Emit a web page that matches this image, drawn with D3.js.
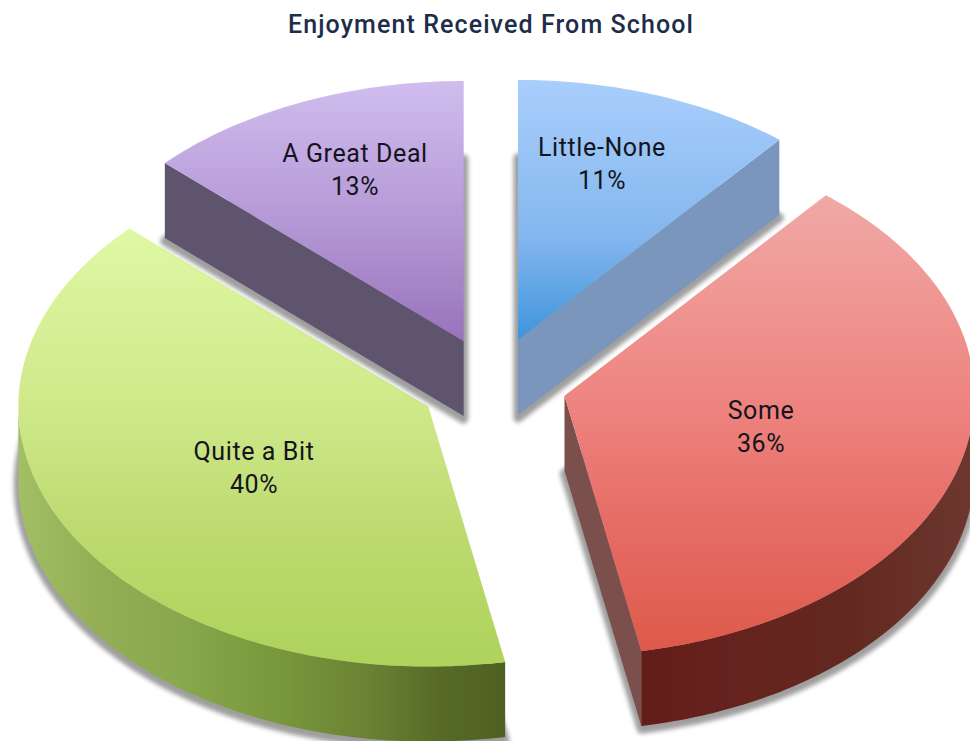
<!DOCTYPE html>
<html>
<head>
<meta charset="utf-8">
<script src="https://cdn.jsdelivr.net/npm/d3@7"></script>
<style>
  html, body { margin: 0; padding: 0; background: #fff; overflow: hidden; }
  text { font-family: Roboto, sans-serif; text-anchor: middle; }
</style>
</head>
<body>
<script>
// Survey results
const title = "Enjoyment Received From School";
const categories = ["Little-None", "Some", "Quite a Bit", "A Great Deal"];
const percents = [11, 36, 40, 13];

// Per-slice shading
const topStops = [
  [[0, "#a9cefc"], [0.6, "#84b7ee"], [1, "#3f94dc"]],
  [[0, "#f0a9a6"], [0.45, "#ee8480"], [0.7, "#e76e68"], [1, "#dd5a4a"]],
  [[0, "#dff8a4"], [0.4, "#cfe98a"], [0.7, "#bcda6f"], [1, "#aed25a"]],
  [[0, "#d0bdee"], [0.55, "#b497d5"], [1, "#9873ba"]]
];
const sideFills = ["#7a96bd", "#7b4f4c", "#55682a", "#5f546e"];
const rimStops = [
  null,
  [[0, "#631d18"], [0.25, "#66221e"], [0.6, "#62281f"], [1, "#6d372f"]],
  [[0, "#a2bf66"], [0.15, "#94af56"], [0.32, "#8aa84e"], [0.52, "#7a993c"], [0.72, "#6a8133"], [0.86, "#576b27"], [1, "#4f6122"]],
  null
];

// Layout
const width = 970, height = 741;
const centerX = 493, centerY = 384;
const radiusX = 410, radiusY = 260;
const depth = 75;
const explode = 0.18;
const labelPoints = [[602, 156], [761, 419], [254, 460], [355, 162]];
const labelGap = 33;

const x = d3.scaleLinear().domain([-1, 1]).range([-radiusX, radiusX]);
const y = d3.scaleLinear().domain([-1, 1]).range([-radiusY, radiusY]);
const line = d3.line();

const arcs = d3.pie().sort(null).value(d => d)(percents);

const svg = d3.select("body").append("svg")
  .attr("width", width).attr("height", height)
  .style("display", "block");

const defs = svg.append("defs");
defs.append("filter").attr("id", "soft")
  .attr("x", "-10%").attr("y", "-10%").attr("width", "120%").attr("height", "120%")
  .append("feGaussianBlur").attr("stdDeviation", 2);

function fillStops(gradient, stops) {
  gradient.selectAll("stop").data(stops).join("stop")
    .attr("offset", d => d[0]).attr("stop-color", d => d[1]);
}

// Point on the tilted rim at pie angle a, measured clockwise from twelve o'clock
const rimPoint = (a, ox, oy, drop = 0) => [ox + x(Math.sin(a)), oy + y(-Math.cos(a)) + drop];
const sweep = (a0, a1) => {
  const n = Math.max(2, Math.ceil((a1 - a0) * 60));
  return d3.range(n + 1).map(i => a0 + (a1 - a0) * i / n);
};

// Paint order keeps the two rear slices above the front slices they shade
const paintOrder = [2, 1, 3, 0];

paintOrder.forEach(i => {
  const d = arcs[i];
  const mid = (d.startAngle + d.endAngle) / 2;
  const ox = centerX + explode * x(Math.sin(mid));
  const oy = centerY + explode * y(-Math.cos(mid));
  const g = svg.append("g").attr("class", "slice");

  const topFace = [[ox, oy], ...sweep(d.startAngle, d.endAngle).map(a => rimPoint(a, ox, oy))];
  const floorFace = topFace.map(p => [p[0], p[1] + depth]);

  // Soft shadow under the base of the slice
  g.append("path")
    .attr("d", line(floorFace) + "Z")
    .attr("transform", "translate(0,3)")
    .attr("fill", "#8e8e8e").attr("stroke", "#8e8e8e").attr("stroke-width", 9)
    .attr("stroke-linejoin", "round").attr("opacity", 0.85)
    .attr("filter", "url(#soft)");

  // Straight side walls, only where the wall faces the viewer
  const walls = [];
  if (Math.sin(d.startAngle) < -0.01) walls.push(d.startAngle);
  if (Math.sin(d.endAngle) > 0.01) walls.push(d.endAngle);
  walls.forEach(a => {
    const p = rimPoint(a, ox, oy);
    g.append("path")
      .attr("d", line([[ox, oy], p, [p[0], p[1] + depth], [ox, oy + depth]]) + "Z")
      .attr("fill", sideFills[i]);
  });

  // Curved outer wall on the part of the rim that faces the viewer
  const from = Math.max(d.startAngle, Math.PI / 2);
  const to = Math.min(d.endAngle, 3 * Math.PI / 2);
  if (to > from && rimStops[i]) {
    const angles = sweep(from, to);
    const upper = angles.map(a => rimPoint(a, ox, oy));
    const lower = angles.map(a => rimPoint(a, ox, oy, depth)).reverse();
    const xs = d3.extent(upper, p => p[0]);
    const id = "rim-" + i;
    fillStops(defs.append("linearGradient").attr("id", id)
      .attr("gradientUnits", "userSpaceOnUse")
      .attr("x1", xs[0]).attr("x2", xs[1]).attr("y1", 0).attr("y2", 0), rimStops[i]);
    g.append("path").attr("d", line([...upper, ...lower]) + "Z").attr("fill", `url(#${id})`);
  }

  // Top face
  const topId = "top-" + i;
  fillStops(defs.append("linearGradient").attr("id", topId)
    .attr("x1", 0).attr("x2", 0).attr("y1", 0).attr("y2", 1), topStops[i]);
  g.append("path").attr("d", line(topFace) + "Z").attr("fill", `url(#${topId})`);
});

// Slice labels
const labels = svg.append("g").selectAll("g").data(categories).join("g")
  .attr("transform", (d, i) => `translate(${labelPoints[i][0]},${labelPoints[i][1]})`)
  .attr("fill", "#14141c").attr("font-size", 25).attr("letter-spacing", 0.6);
labels.append("text").text(d => d);
labels.append("text").attr("y", labelGap).text((d, i) => percents[i] + "%");

svg.append("text").attr("x", 491).attr("y", 33)
  .attr("fill", "#1e2d4a").attr("font-size", 25).attr("font-weight", 500)
  .attr("letter-spacing", 1.1)
  .text(title);
</script>
</body>
</html>
